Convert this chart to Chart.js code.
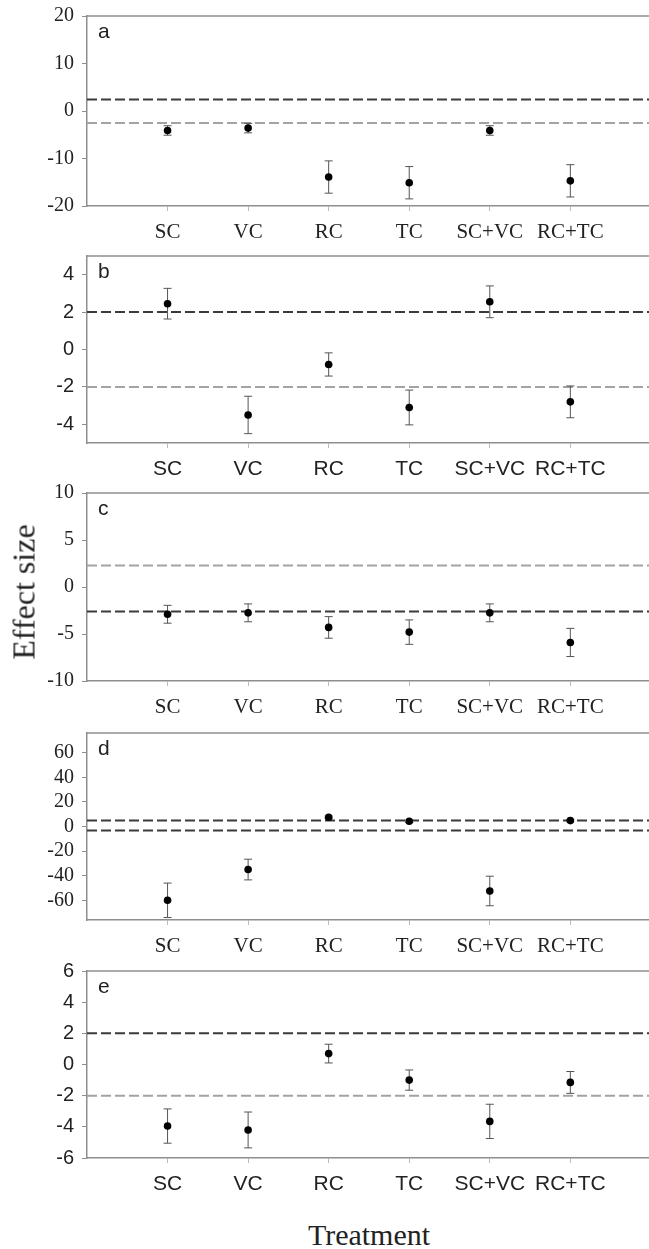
<!DOCTYPE html>
<html>
<head>
<meta charset="utf-8">
<script src="https://cdn.jsdelivr.net/npm/chart.js@4.4.0/dist/chart.umd.min.js"></script>
<style>
    body { margin: 0; background: #fff; width: 649px; height: 1249px; position: relative; overflow: hidden; }
    canvas { position: absolute; left: 0; }
    .eje { position: absolute; font-family: "Liberation Serif", "DejaVu Serif", serif; color: #222; white-space: nowrap; }
</style>
</head>
<body>
<canvas id="panelA"></canvas>
<canvas id="panelB"></canvas>
<canvas id="panelC"></canvas>
<canvas id="panelD"></canvas>
<canvas id="panelE"></canvas>
<div class="eje" id="tituloY" style="font-size:32px; left:24px; top:592px; transform: translate(-50%, -50%) rotate(-90deg);">Effect size</div>
<div class="eje" id="tituloX" style="font-size:30px; left:369px; top:1235px; transform: translate(-50%, -50%);">Treatment</div>
<script>
const categorias = ['SC', 'VC', 'RC', 'TC', 'SC+VC', 'RC+TC'];

// panel a
const mediasA = [-4.1, -3.6, -13.9, -15.1, -4.1, -14.7];
const erroresA = [1.0, 1.0, 3.4, 3.4, 1.0, 3.4];
const lineasA = [2.4, -2.5];
const ticksA = [-20, -10, 0, 10, 20];

// panel b
const mediasB = [2.45, -3.5, -0.8, -3.1, 2.55, -2.8];
const erroresB = [0.82, 1.0, 0.62, 0.93, 0.85, 0.85];
const lineasB = [2, -2];
const ticksB = [-4, -2, 0, 2, 4];

// panel c
const mediasC = [-2.9, -2.75, -4.3, -4.8, -2.75, -5.9];
const erroresC = [0.95, 0.95, 1.15, 1.3, 0.95, 1.5];
const lineasC = [2.3, -2.6];
const ticksC = [-10, -5, 0, 5, 10];

// panel d
const mediasD = [-60, -35, 7.5, 4.3, -52.4, 4.8];
const erroresD = [14, 8.4, 1, 1, 12, 1];
const lineasD = [4.8, -3.2];
const ticksD = [-60, -40, -20, 0, 20, 40, 60];

// panel e
const mediasE = [-3.95, -4.2, 0.7, -1.0, -3.65, -1.15];
const erroresE = [1.1, 1.15, 0.6, 0.65, 1.1, 0.7];
const lineasE = [2, -2];
const ticksE = [-6, -4, -2, 0, 2, 4, 6];

const OSCURO = '#3a3a3a';
const CLARO = '#a3a3a3';
const MARCO = '#8e8e8e';
const SERIF = '"Liberation Serif", "DejaVu Serif", serif';
const SANS = '"Liberation Sans", Arial, sans-serif';

// el eje x va de 0 a 7 en la parte visible; el canvas sigue un poco mas a la derecha
const ANCHO_CANVAS = 700;
const X_MAX = 7.56;

// barras de error + marco superior + letra del panel
const pluginPanel = {
    id: 'pluginPanel',
    afterDatasetDraw(chart, args) {
        if (args.index !== 1) return;
        const ctx = chart.ctx;
        const x = chart.scales.x, y = chart.scales.y;
        const d = chart.data.datasets[0];
        ctx.save();
        ctx.setLineDash([]);
        ctx.strokeStyle = '#555';
        ctx.lineWidth = 1;
        d.data.forEach((p, i) => {
            const px = x.getPixelForValue(p.x);
            const top = y.getPixelForValue(p.y + d.errores[i]);
            const bot = y.getPixelForValue(p.y - d.errores[i]);
            ctx.beginPath();
            ctx.moveTo(px, top); ctx.lineTo(px, bot);
            ctx.moveTo(px - 4, top); ctx.lineTo(px + 4, top);
            ctx.moveTo(px - 4, bot); ctx.lineTo(px + 4, bot);
            ctx.stroke();
        });
        ctx.restore();
    },
    afterDraw(chart) {
        const ctx = chart.ctx;
        const a = chart.chartArea;
        ctx.save();
        ctx.setLineDash([]);
        ctx.strokeStyle = MARCO;
        ctx.lineWidth = 1.5;
        ctx.beginPath();
        ctx.moveTo(a.left, a.top);
        ctx.lineTo(a.right, a.top);
        ctx.stroke();
        ctx.fillStyle = '#222';
        ctx.font = '21px ' + SANS;
        ctx.textBaseline = 'alphabetic';
        ctx.fillText(chart.options.letra, a.left + 11, a.top + 22);
        ctx.restore();
    }
};

function crearPanel(id, letra, medias, errores, lineas, coloresLineas, ticks, min, max, fuente, arriba, abajo) {
    const canvas = document.getElementById(id);
    const alto = abajo - arriba + 20 + 50;
    canvas.width = ANCHO_CANVAS;
    canvas.height = alto;
    canvas.style.top = (arriba - 20) + 'px';

    const puntos = medias.map((m, i) => ({ x: i + 1, y: m }));

    const datas = {
        datasets: [{
            type: 'scatter',
            data: puntos,
            errores: errores,
            pointRadius: 3.8,
            pointBackgroundColor: '#000',
            pointBorderColor: '#000',
            pointBorderWidth: 0
        }, {
            type: 'line',
            data: [{ x: 0, y: lineas[0] }, { x: X_MAX, y: lineas[0] }],
            borderColor: coloresLineas[0],
            borderWidth: 2,
            borderDash: [10, 4],
            pointRadius: 0
        }, {
            type: 'line',
            data: [{ x: 0, y: lineas[1] }, { x: X_MAX, y: lineas[1] }],
            borderColor: coloresLineas[1],
            borderWidth: 2,
            borderDash: [10, 4],
            pointRadius: 0
        }]
    };

    const config = {
        type: 'scatter',
        data: datas,
        options: {
            responsive: false,
            animation: false,
            letra: letra,
            layout: { padding: { top: 20, left: 0, right: 0, bottom: 0 } },
            plugins: {
                legend: { display: false },
                tooltip: { enabled: false }
            },
            scales: {
                x: {
                    type: 'linear',
                    min: 0,
                    max: X_MAX,
                    afterFit: (s) => { s.height = 50; },
                    afterBuildTicks: (s) => { s.ticks = categorias.map((c, i) => ({ value: i + 1 })); },
                    border: { display: true, color: MARCO, width: 1.5 },
                    grid: { drawOnChartArea: false, drawTicks: true, tickLength: 5, color: '#bbb' },
                    ticks: {
                        autoSkip: false,
                        maxRotation: 0,
                        padding: 9,
                        color: '#222',
                        font: { family: fuente, size: 21 },
                        callback: (v) => categorias[v - 1]
                    }
                },
                y: {
                    type: 'linear',
                    min: min,
                    max: max,
                    afterFit: (s) => { s.width = 87; },
                    afterBuildTicks: (s) => { s.ticks = ticks.map(v => ({ value: v })); },
                    border: { display: true, color: MARCO, width: 1.5 },
                    grid: { drawOnChartArea: false, drawTicks: true, tickLength: 5, color: MARCO },
                    ticks: {
                        padding: 8,
                        color: '#222',
                        font: { family: fuente, size: 20 }
                    }
                }
            }
        },
        plugins: [pluginPanel]
    };

    return new Chart(canvas, config);
}

crearPanel('panelA', 'a', mediasA, erroresA, lineasA, [OSCURO, CLARO], ticksA, -20, 20, SERIF, 16, 206);
crearPanel('panelB', 'b', mediasB, erroresB, lineasB, [OSCURO, CLARO], ticksB, -5, 5, SANS, 256, 443);
crearPanel('panelC', 'c', mediasC, erroresC, lineasC, [CLARO, OSCURO], ticksC, -10, 10, SERIF, 493, 681);
crearPanel('panelD', 'd', mediasD, erroresD, lineasD, [OSCURO, OSCURO], ticksD, -76, 76, SERIF, 733, 920);
crearPanel('panelE', 'e', mediasE, erroresE, lineasE, [OSCURO, CLARO], ticksE, -6, 6, SANS, 971, 1158);
</script>
</body>
</html>
